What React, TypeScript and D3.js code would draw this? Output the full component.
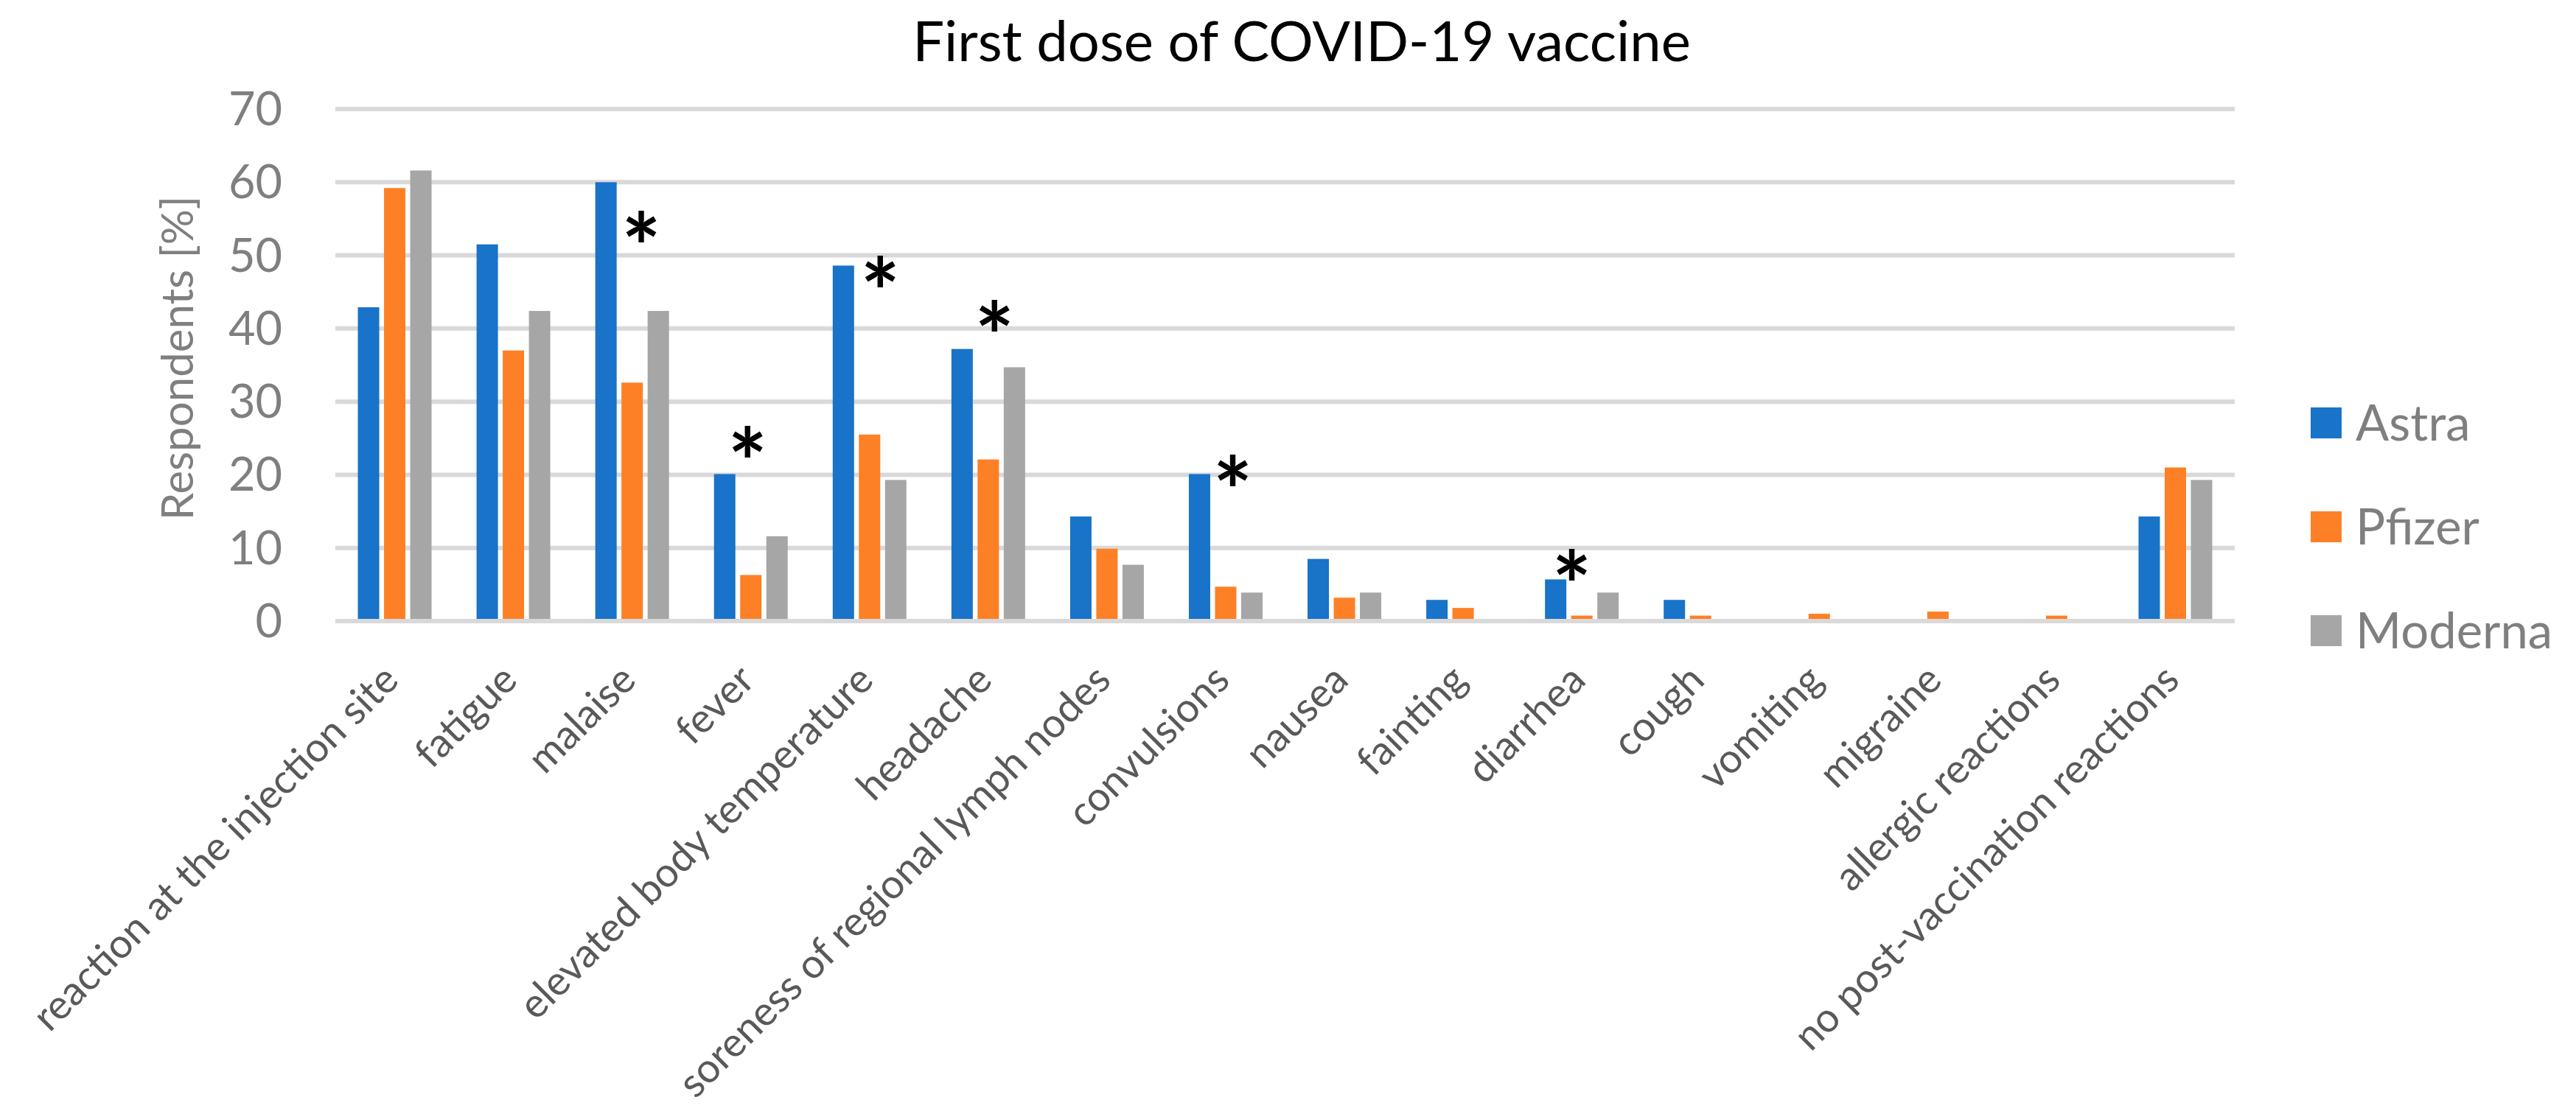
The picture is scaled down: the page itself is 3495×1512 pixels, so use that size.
import * as d3 from "d3";

// ── Data ──────────────────────────────────────────────────────────────────────
const categories = [
  "reaction at the injection site",
  "fatigue",
  "malaise",
  "fever",
  "elevated body temperature",
  "headache",
  "soreness of regional lymph nodes",
  "convulsions",
  "nausea",
  "fainting",
  "diarrhea",
  "cough",
  "vomiting",
  "migraine",
  "allergic reactions",
  "no post-vaccination reactions",
];

const seriesNames = ["Astra", "Pfizer", "Moderna"];

const astra = [42.9, 51.5, 60.0, 20.1, 48.6, 37.2, 14.3, 20.1, 8.5, 2.9, 5.7, 2.9, 0, 0, 0, 14.3];
const pfizer = [59.2, 37.0, 32.6, 6.3, 25.5, 22.1, 9.9, 4.7, 3.2, 1.8, 0.75, 0.75, 1.0, 1.3, 0.75, 21.0];
const moderna = [61.6, 42.4, 42.4, 11.6, 19.3, 34.7, 7.7, 3.9, 3.9, 0, 3.9, 0, 0, 0, 0, 19.3];

const yTicks = [0, 10, 20, 30, 40, 50, 60, 70];

// significance markers: category, level (in %), horizontal place within band
const starCats = ["malaise", "fever", "elevated body temperature", "headache", "convulsions", "diarrhea"];
const starLevels = [53.7, 24.3, 47.6, 41.6, 20.4, 7.5];
const starBandPos = [0.577, 0.472, 0.59, 0.553, 0.559, 0.416];

// ── Layout ────────────────────────────────────────────────────────────────────
const W = 3495;
const H = 1512;
const PLOT = { left: 455, right: 3032, top: 148, bottom: 843 };
const COLORS = ["#1873C9", "#FE8026", "#A6A6A6"];
const FONT = "Lato, 'Noto Sans', sans-serif";
const STAR_SIZE = 126;

export default function App() {
  const values = [astra, pfizer, moderna];

  const x0 = d3.scaleBand<string>().domain(categories).range([PLOT.left, PLOT.right]).padding(0);
  const x1 = d3
    .scaleBand<string>()
    .domain(seriesNames)
    .range([0, x0.bandwidth()])
    .paddingInner(0.183)
    .paddingOuter(0.86);
  const y = d3.scaleLinear().domain([0, 70]).range([PLOT.bottom, PLOT.top]);

  return (
    <svg
      width={W}
      height={H}
      viewBox={`0 0 ${W} ${H}`}
      style={{ position: "absolute", left: 0, top: 0, background: "#fff" }}
      fontFamily={FONT}
    >
      <rect width={W} height={H} fill="#fff" />

      {/* title */}
      <text x={1766} y={83} textAnchor="middle" fontSize={76} fill="#000">
        First dose of COVID-19 vaccine
      </text>

      {/* grid + y ticks */}
      {yTicks.map((t) => (
        <g key={t}>
          <line
            x1={PLOT.left}
            x2={PLOT.right}
            y1={y(t)}
            y2={y(t)}
            stroke="#D9D9D9"
            strokeWidth={6}
          />
          <text x={383} y={y(t) + 22} textAnchor="end" fontSize={63} fill="#7F7F7F">
            {t}
          </text>
        </g>
      ))}

      {/* y label */}
      <text
        transform={`translate(262,486) rotate(-90)`}
        textAnchor="middle"
        fontSize={60}
        fill="#7F7F7F"
      >
        Respondents [%]
      </text>

      {/* bars */}
      {categories.map((c, i) => (
        <g key={c} transform={`translate(${x0(c)},0)`}>
          {seriesNames.map((s, k) => {
            const v = values[k][i];
            if (!v) return null;
            return (
              <rect
                key={s}
                x={x1(s)}
                y={y(v)}
                width={x1.bandwidth()}
                height={y(0) - y(v) - 3}
                fill={COLORS[k]}
              />
            );
          })}
        </g>
      ))}

      {/* asterisks */}
      {starCats.map((c, i) => (
        <text
          key={c}
          x={(x0(c) ?? 0) + starBandPos[i] * x0.bandwidth()}
          y={y(starLevels[i]) + STAR_SIZE * 0.576}
          textAnchor="middle"
          fontSize={STAR_SIZE}
          fontWeight="bold"
          fill="#000"
        >
          *
        </text>
      ))}

      {/* category labels */}
      {categories.map((c) => {
        const cx = (x0(c) ?? 0) + x0.bandwidth() / 2;
        return (
          <text
            key={c}
            transform={`translate(${cx + 8},${926}) rotate(-45)`}
            textAnchor="end"
            fontSize={55}
            fill="#595959"
          >
            {c}
          </text>
        );
      })}

      {/* legend */}
      {seriesNames.map((s, k) => {
        const top = 553 + k * 141;
        return (
          <g key={s}>
            <rect x={3135} y={top} width={42} height={42} fill={COLORS[k]} />
            <text x={3196} y={top + 45} fontSize={67} fill="#7F7F7F">
              {s}
            </text>
          </g>
        );
      })}
    </svg>
  );
}
